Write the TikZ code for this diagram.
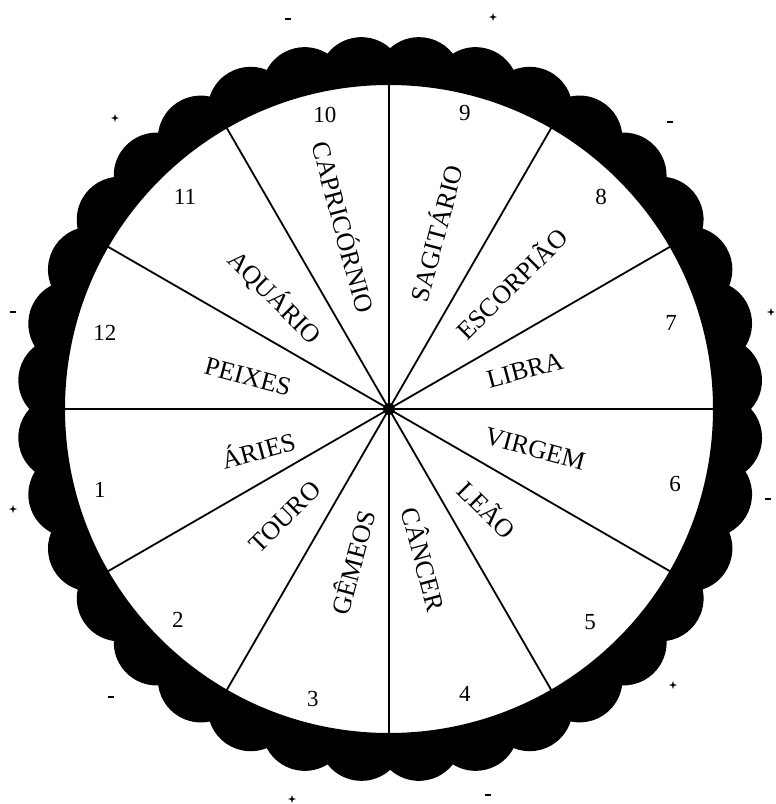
\documentclass[tikz,border=0pt]{standalone}
\usepackage{fontspec}
\setmainfont{Liberation Serif}
\begin{document}
\begin{tikzpicture}[x=1pt,y=1pt,
  signname/.style={font=\fontsize{26}{30}\selectfont, inner sep=0pt},
  housenum/.style={font=\fontsize{23}{27}\selectfont, inner sep=0pt},
  spoke/.style={line width=1.8pt},
  plussign/.pic={\fill (0,4)--(0.9,0.9)--(4,0)--(0.9,-0.9)--(0,-4)--(-0.9,-0.9)--(-4,0)--(-0.9,0.9)--cycle;},
  minussign/.pic={\fill (-3,-1) rectangle (3,1);}]
\useasboundingbox[fill=white] (-389,-395) rectangle (387,409);
% center and spoke ends
\node[circle, fill=black, inner sep=0pt, minimum size=12pt] (c) at (0,0) {};
\foreach \i in {0,...,11}{
  \coordinate (p\i) at (\i*30:326);
  \draw[spoke] (c.center) -- (p\i);
}
% scalloped black ring
\fill[even odd rule] (0:362)
  \foreach \i in {0,...,35}{ arc[start angle={10*\i+5-47.0}, end angle={10*\i+5+47.0}, radius=43.0] }
  -- cycle (0,0) circle[radius=324];
% house numbers
\node[housenum] (n1)  at (-289,-81) {1};
\node[housenum] (n2)  at (-211,-211) {2};
\node[housenum] (n3)  at (-76,-290) {3};
\node[housenum] (n4)  at (76,-285) {4};
\node[housenum] (n5)  at (201,-213) {5};
\node[housenum] (n6)  at (286,-75) {6};
\node[housenum] (n7)  at (282,86) {7};
\node[housenum] (n8)  at (212,212) {8};
\node[housenum] (n9)  at (76,296) {9};
\node[housenum] (n10) at (-64,294) {10};
\node[housenum] (n11) at (-204,212) {11};
\node[housenum] (n12) at (-284,76) {12};
% sign names
\node[signname, rotate=15]  (aries)  at (-131,-40) {ÁRIES};
\node[signname, rotate=45]  (touro)  at (-104,-108) {TOURO};
\node[signname, rotate=75]  (gemeos) at (-37,-153) {GÊMEOS};
\node[signname, rotate=-75] (cancer) at (36,-150) {CÂNCER};
\node[signname, rotate=-45] (leao)   at (99,-100) {LEÃO};
\node[signname, rotate=-15] (virgem) at (146,-40) {VIRGEM};
\node[signname, rotate=15]  (libra)  at (136,39) {LIBRA};
\node[signname, rotate=45]  (escorpiao) at (122,126) {ESCORPIÃO};
\node[signname, rotate=75]  (sagitario) at (46,176) {SAGITÁRIO};
\node[signname, rotate=-75] (capricornio) at (-44,182) {CAPRICÓRNIO};
\node[signname, rotate=-45] (aquario) at (-114,112) {AQUÁRIO};
\node[signname, rotate=-15] (peixes) at (-141,32) {PEIXES};
% plus and minus marks
\pic at (-101,390) {minussign};
\pic at (104,392) {plussign};
\pic at (281,287) {minussign};
\pic at (382,97) {plussign};
\pic at (379,-90) {minussign};
\pic at (284,-276) {plussign};
\pic at (99,-386) {minussign};
\pic at (-97,-390) {plussign};
\pic at (-278,-288) {minussign};
\pic at (-376,-100) {plussign};
\pic at (-376,97) {minussign};
\pic at (-274,291) {plussign};
\end{tikzpicture}
\end{document}
